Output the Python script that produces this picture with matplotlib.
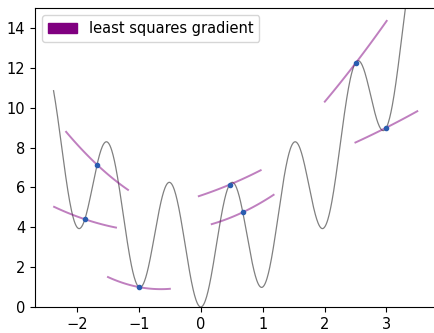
import numpy as np
import matplotlib
matplotlib.use("Agg")
import matplotlib.pyplot as plt
from matplotlib.patches import Patch

# Gray curve parameters: y = x^2 + A*(1 - cos(2*pi*x))
curve_x_start = -2.38
curve_x_end = 3.4
curve_amp = 3.0

# Sample points (x, y) and local models (gradient, curvature)
pt_x = [-1.871, -1.677, -1.0, 0.468, 0.677, 2.505, 3.0]
pt_y = [4.40, 7.14, 1.00, 6.14, 4.75, 12.24, 9.00]
grad = [-1.04, -2.91, -0.59, 1.30, 1.47, 4.05, 1.57]
curv = [0.42, 0.77, 0.83, 0.28, 0.57, 0.35, 0.15]
half_width = 0.5

legend_label = "least squares gradient"

fig = plt.figure(figsize=(4.34, 3.33), dpi=100)
ax = fig.add_axes([35 / 434, 26 / 333, 1 - 35 / 434, 299 / 333])

xs = np.linspace(curve_x_start, curve_x_end, 800)
ys = xs ** 2 + curve_amp * (1 - np.cos(2 * np.pi * xs))
ax.plot(xs, ys, color="gray", lw=0.9)

for x0, y0, g, c in zip(pt_x, pt_y, grad, curv):
    h = np.linspace(-half_width, half_width, 50)
    ax.plot(x0 + h, y0 + g * h + c * h ** 2, color="purple", alpha=0.5, lw=1.4)

ax.plot(pt_x, pt_y, "o", color="#2a5db0", ms=3, zorder=5)

ax.set_xlim(-2.68, 3.77)
ax.set_ylim(0, 15)
ax.spines["right"].set_visible(False)
ax.set_xticks([-2, -1, 0, 1, 2, 3])
ax.set_yticks([0, 2, 4, 6, 8, 10, 12, 14])
ax.tick_params(labelsize=10.5)

ax.legend(handles=[Patch(color="purple", label=legend_label)], loc="upper left",
          fontsize=10.5)

fig.savefig("out.png", dpi=100)
